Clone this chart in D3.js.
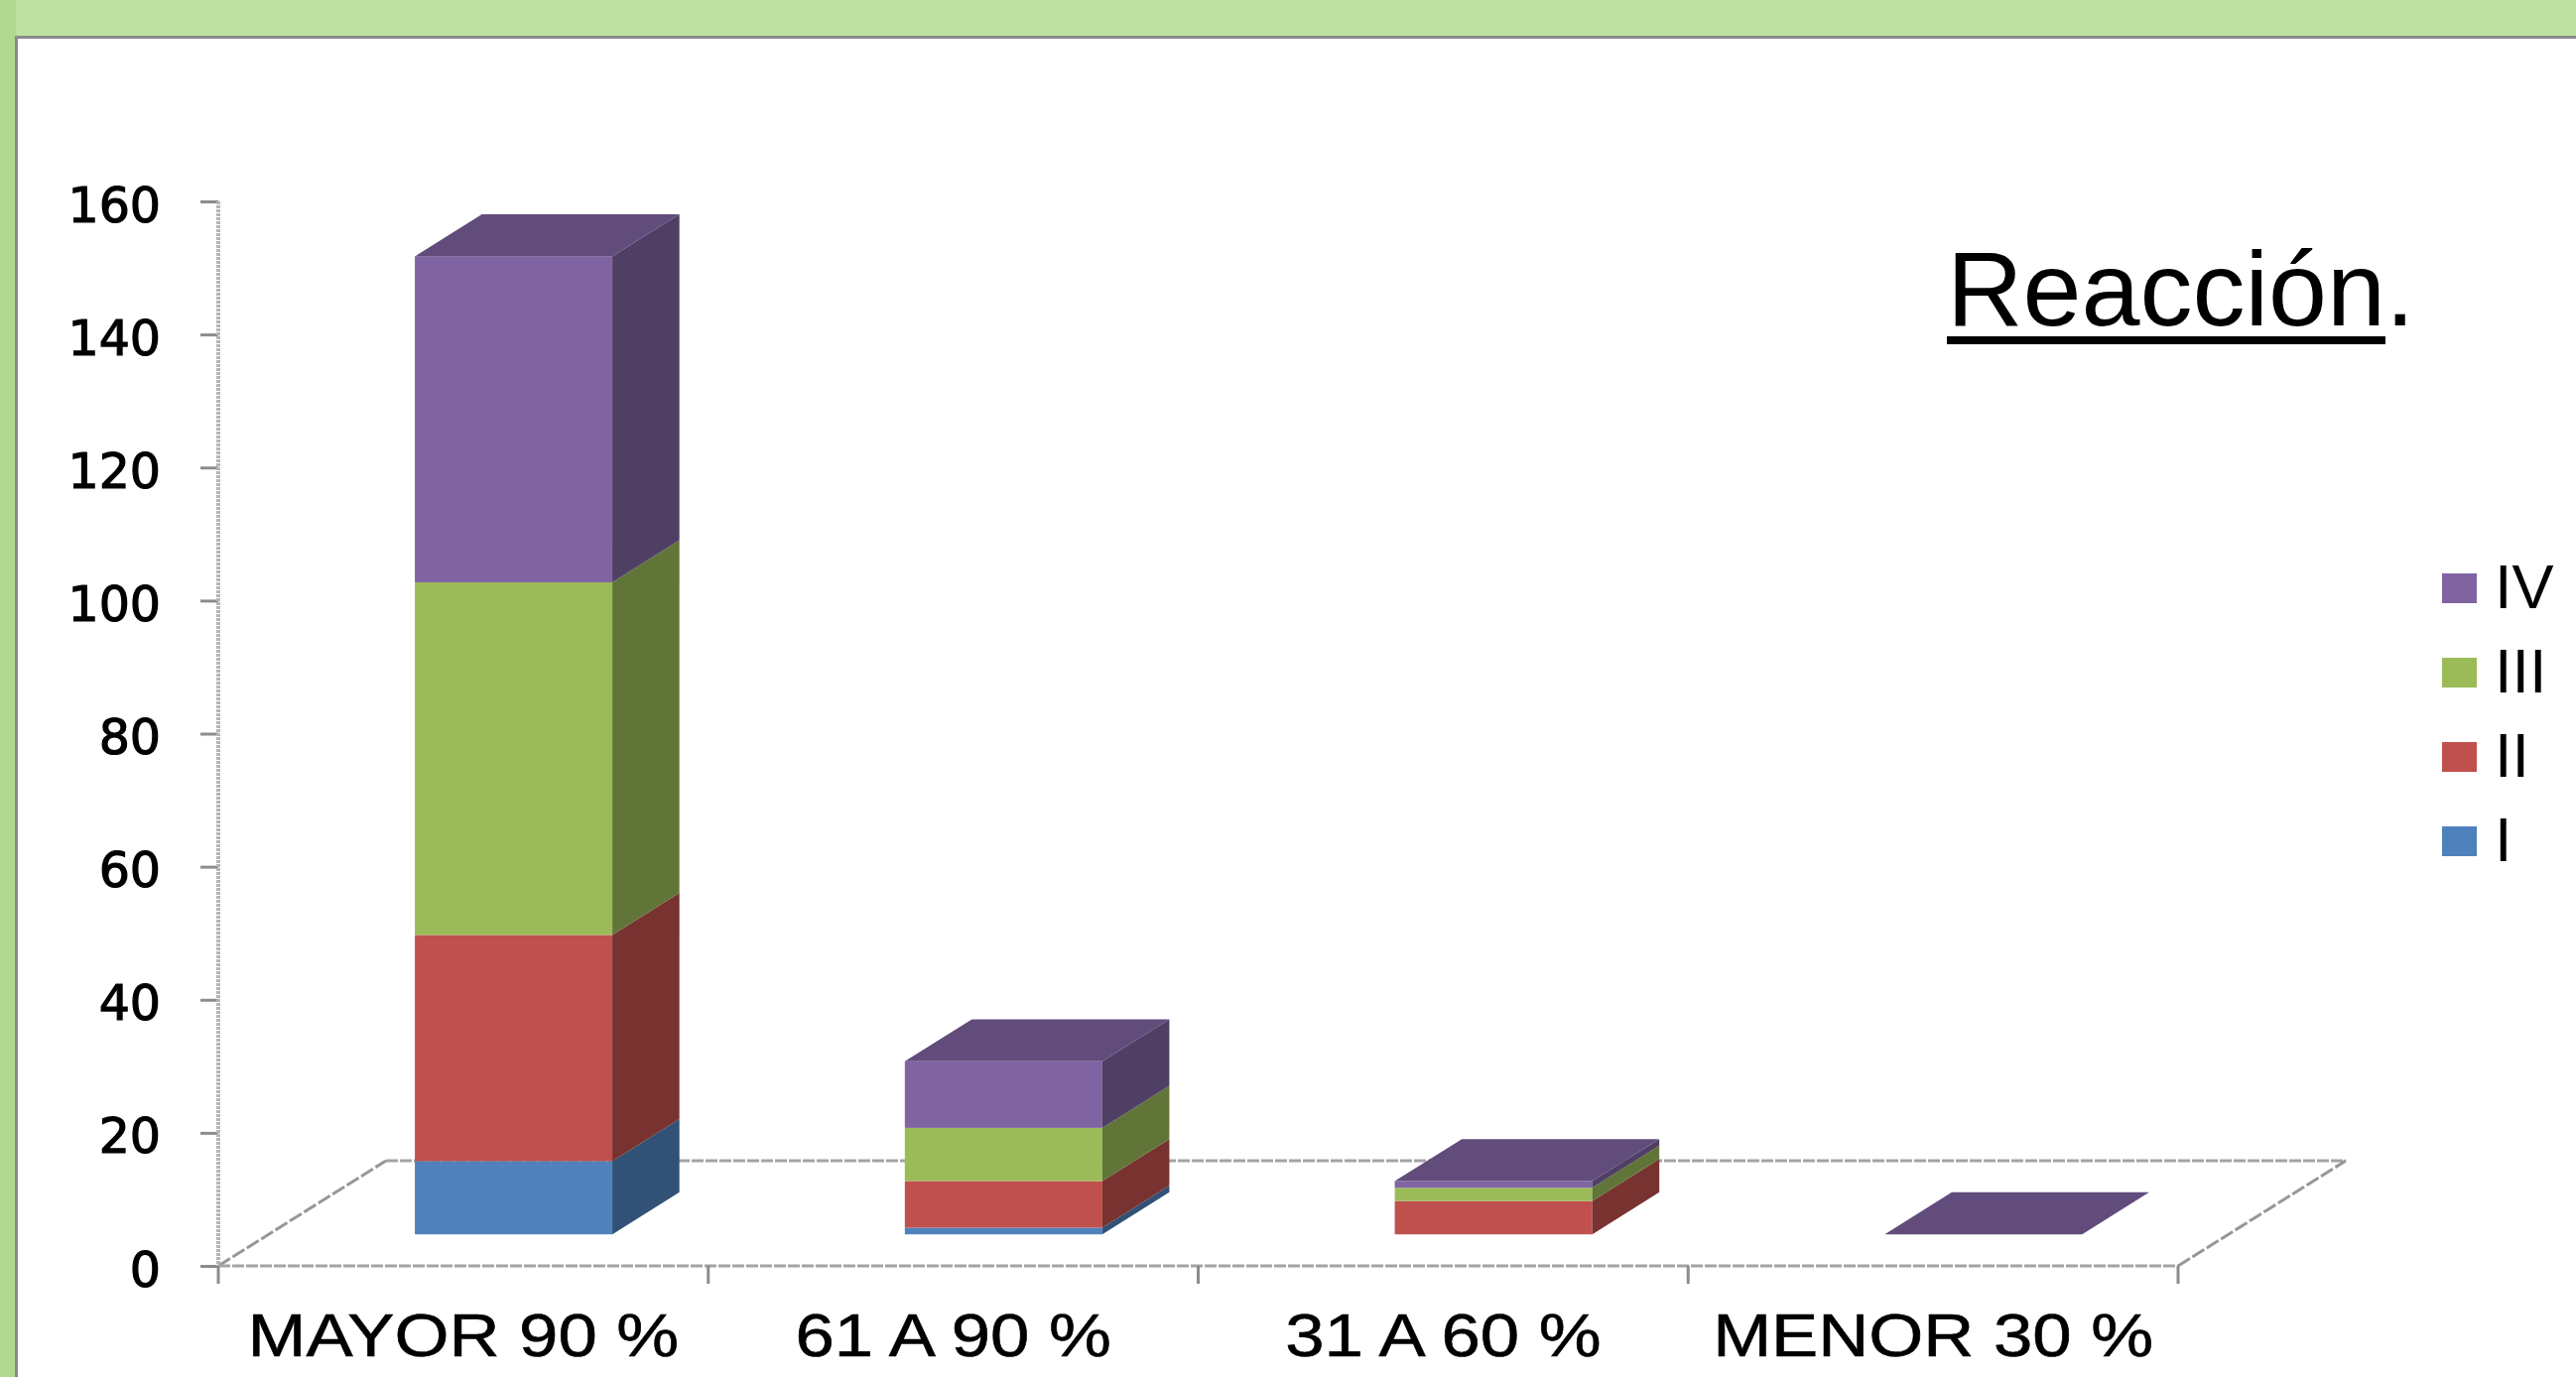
<!DOCTYPE html>
<html>
<head>
<meta charset="utf-8">
<script src="https://cdn.jsdelivr.net/npm/d3@7/dist/d3.min.js"></script>
<style>
  html, body { margin: 0; padding: 0; background: #ffffff; }
  svg { display: block; }
</style>
</head>
<body>
<svg id="chart" width="2596" height="1388"></svg>
<script>
// ---- data ----
const categories = ["MAYOR 90 %", "61 A 90 %", "31 A 60 %", "MENOR 30 %"];
const seriesNames = ["I", "II", "III", "IV"];
const valuesI   = [11, 1, 0, 0];
const valuesII  = [34, 7, 5, 0];
const valuesIII = [53, 8, 2, 0];
const valuesIV  = [49, 10, 1, 0];
const yTicks = [0, 20, 40, 60, 80, 100, 120, 140, 160];
const titleText = "Reacción";

// ---- styles ----
const colors = { I: "#4F81BD", II: "#C0504D", III: "#9BBB59", IV: "#8064A2" };
const shade = (c, k) => { const r = d3.rgb(c); return d3.rgb(r.r * k, r.g * k, r.b * k).formatHex(); };

const svg = d3.select("#chart");
const W = 2596, H = 1388;

// background frame
svg.append("rect").attr("x", 0).attr("y", 0).attr("width", W).attr("height", H).attr("fill", "#ffffff");
svg.append("rect").attr("x", 0).attr("y", 0).attr("width", W).attr("height", 37).attr("fill", "#BEE0A1");
svg.append("rect").attr("x", 0).attr("y", 0).attr("width", 16).attr("height", H).attr("fill", "#B1D98F");
svg.append("rect").attr("x", 16).attr("y", 36).attr("width", W - 16).attr("height", 3).attr("fill", "#8a8a8a");
svg.append("rect").attr("x", 15).attr("y", 36).attr("width", 3).attr("height", H - 36).attr("fill", "#8a8a8a");

// rows
const rows = categories.map((c, i) => ({
  cat: c, I: valuesI[i], II: valuesII[i], III: valuesIII[i], IV: valuesIV[i]
}));
const stacked = d3.stack().keys(seriesNames)(rows);

// scales
const x = d3.scaleBand().domain(categories).range([220, 2195]).paddingInner(0).paddingOuter(0);
const y = d3.scaleLinear().domain([0, 160]).range([1276, 203]);
const floorDx = 169, floorDy = -106;   // depth of the floor
const frontFrac = 0.3, depthFrac = 0.4; // bar depth placement
const barFrac = 0.403;
const bw = x.bandwidth();
const barW = bw * barFrac;
const fdx = frontFrac * floorDx, fdy = frontFrac * floorDy;
const ddx = depthFrac * floorDx, ddy = depthFrac * floorDy;

const x0 = x.range()[0], x1 = x.range()[1], yBase = y(0);

// floor
const gridStroke = "#a3a3a3";
const floor = svg.append("g").attr("fill", "none").attr("stroke", gridStroke).attr("stroke-width", 3);
floor.append("line").attr("x1", x0 + floorDx).attr("y1", yBase + floorDy).attr("x2", x1 + floorDx).attr("y2", yBase + floorDy).attr("stroke-dasharray", "12 2");
floor.append("line").attr("x1", x0).attr("y1", yBase).attr("x2", x0 + floorDx).attr("y2", yBase + floorDy).attr("stroke", "#979797").attr("stroke-dasharray", "14 3");
floor.append("line").attr("x1", x1).attr("y1", yBase).attr("x2", x1 + floorDx).attr("y2", yBase + floorDy).attr("stroke", "#979797").attr("stroke-dasharray", "14 3");
floor.append("line").attr("x1", x0).attr("y1", yBase).attr("x2", x1).attr("y2", yBase).attr("stroke-dasharray", "12 2");

// y axis
const yAxisG = svg.append("g").attr("transform", `translate(${x0},0)`);
yAxisG.call(d3.axisLeft(y).tickValues(yTicks).tickSize(18).tickPadding(40));
yAxisG.select(".domain").remove();
yAxisG.selectAll(".tick line").attr("stroke", "#8c8c8c").attr("stroke-width", 3);
yAxisG.selectAll(".tick text")
  .attr("font-family", "DejaVu Sans, Verdana, sans-serif")
  .attr("font-size", 49)
  .attr("fill", "#000")
  .attr("stroke", "#000")
  .attr("stroke-width", 1.2)
  .attr("dy", "0.41em");
svg.append("line").attr("x1", x0).attr("y1", y(160)).attr("x2", x0).attr("y2", yBase)
  .attr("stroke", "#b5b5b5").attr("stroke-width", 4).attr("stroke-dasharray", "3 1");

// x ticks at category boundaries
const boundaries = categories.map(c => x(c)).concat([x1]);
svg.append("g").selectAll("line").data(boundaries).join("line")
  .attr("x1", d => d).attr("x2", d => d)
  .attr("y1", yBase).attr("y2", yBase + 18)
  .attr("stroke", "#8c8c8c").attr("stroke-width", 3);

// category labels
svg.append("g").selectAll("text").data(categories).join("text")
  .attr("transform", d => `translate(${x(d) + bw / 2},1367) scale(1.14,1)`)
  .attr("text-anchor", "middle")
  .attr("font-family", "Liberation Sans, Arial, sans-serif")
  .attr("font-size", 62)
  .attr("fill", "#000")
  .attr("stroke", "#000")
  .attr("stroke-width", 0.6)
  .text(d => d);

// bars
const barsG = svg.append("g");
stacked.forEach(layer => {
  const key = layer.key;
  layer.forEach((d, j) => {
    const v0 = d[0], v1 = d[1];
    if (v1 - v0 <= 0) return;
    const cat = categories[j];
    const bx0 = x(cat) + (bw - barW) / 2 + fdx;
    const bx1 = bx0 + barW;
    const yT = y(v1) + fdy;
    const yB = y(v0) + fdy;
    barsG.append("rect")
      .attr("x", bx0).attr("y", yT).attr("width", barW).attr("height", yB - yT)
      .attr("fill", colors[key]);
    barsG.append("polygon")
      .attr("points", [[bx1, yB], [bx1, yT], [bx1 + ddx, yT + ddy], [bx1 + ddx, yB + ddy]].map(p => p.join(",")).join(" "))
      .attr("fill", shade(colors[key], 0.625));
  });
});
// top faces (colored by the last series)
const topLayer = stacked[stacked.length - 1];
topLayer.forEach((d, j) => {
  const cat = categories[j];
  const bx0 = x(cat) + (bw - barW) / 2 + fdx;
  const bx1 = bx0 + barW;
  const yT = y(d[1]) + fdy;
  barsG.append("polygon")
    .attr("points", [[bx0, yT], [bx1, yT], [bx1 + ddx, yT + ddy], [bx0 + ddx, yT + ddy]].map(p => p.join(",")).join(" "))
    .attr("fill", shade(colors[topLayer.key], 0.76));
});

// legend
const legendOrder = seriesNames.slice().reverse();
const leg = svg.append("g");
legendOrder.forEach((s, i) => {
  const base = 613 + i * 85;
  leg.append("rect").attr("x", 2461).attr("y", base - 35).attr("width", 35).attr("height", 30).attr("fill", colors[s]);
  leg.append("text").attr("x", 2514).attr("y", base)
    .attr("font-family", "Liberation Sans, Arial, sans-serif").attr("font-size", 63).attr("fill", "#000")
    .text(s);
});

// title
const title = svg.append("text").attr("x", 1962).attr("y", 328)
  .attr("font-family", "Liberation Sans, Arial, sans-serif").attr("font-size", 106).attr("fill", "#000")
  .text(titleText);
const tlen = title.node().getComputedTextLength();
svg.append("rect").attr("x", 1962).attr("y", 339).attr("width", tlen).attr("height", 8).attr("fill", "#000");
svg.append("text").attr("x", 1962 + tlen).attr("y", 328)
  .attr("font-family", "Liberation Sans, Arial, sans-serif").attr("font-size", 106).attr("fill", "#000")
  .text(".");
</script>
</body>
</html>
